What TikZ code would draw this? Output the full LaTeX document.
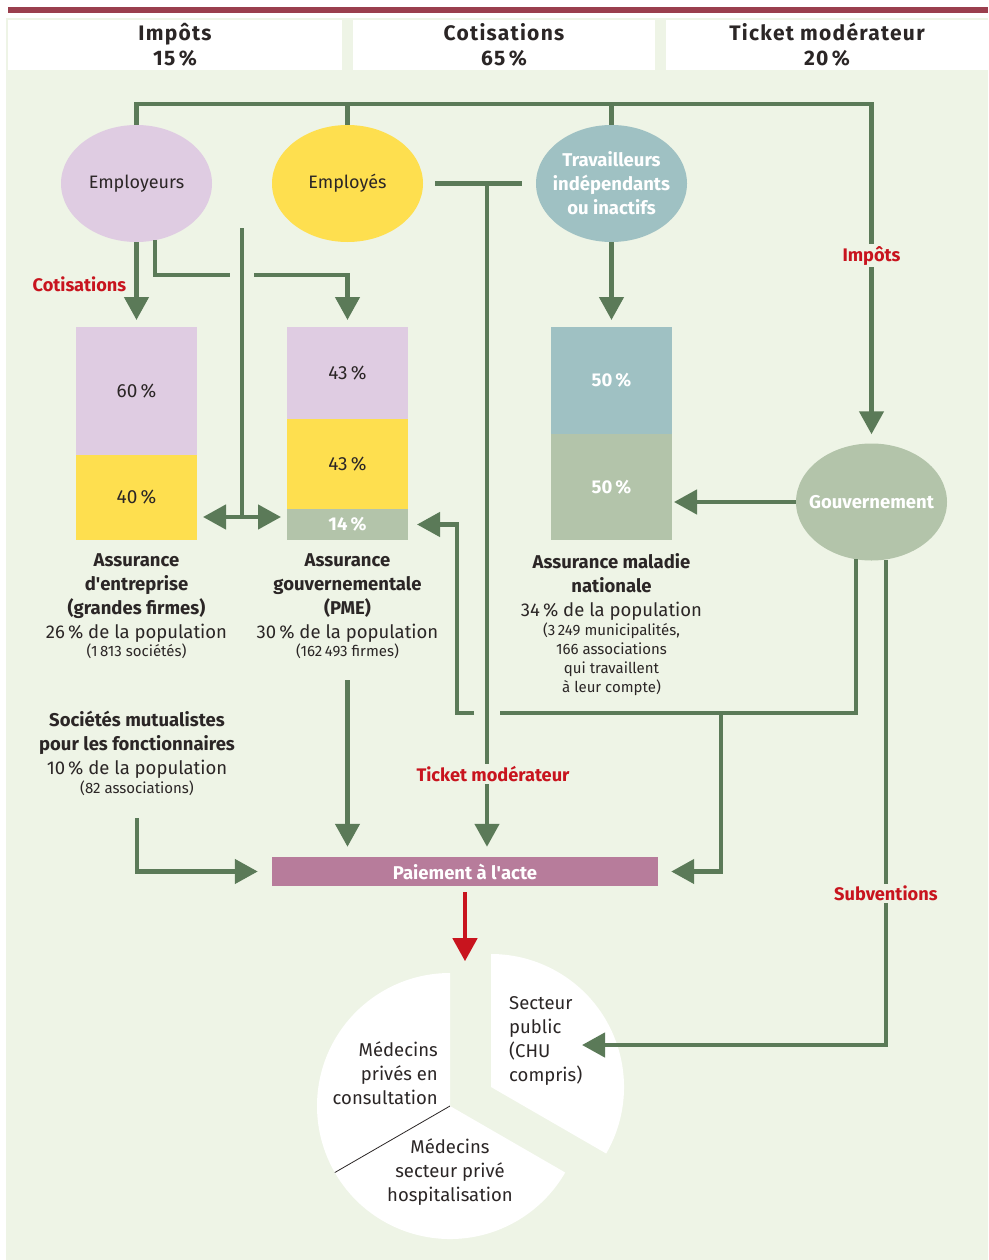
\documentclass[tikz,border=0pt]{standalone}
\usepackage{fontspec}
\setmainfont{Fira Sans}
\usetikzlibrary{arrows.meta,positioning,shapes.geometric}

\definecolor{fondvert}{HTML}{EEF4E6}
\definecolor{bordeaux}{HTML}{9A3F4E}
\definecolor{fleche}{HTML}{5B7A58}
\definecolor{rouge}{HTML}{C8141E}
\definecolor{lilas}{HTML}{DFCCE2}
\definecolor{jaune}{HTML}{FEDF4F}
\definecolor{bleugris}{HTML}{9FC1C3}
\definecolor{sauge}{HTML}{B3C4AA}
\definecolor{mauve}{HTML}{B77C9B}
\definecolor{encre}{HTML}{2B2626}

\begin{document}
\begin{tikzpicture}[x=1pt,y=-1pt,
		flux/.style={draw=fleche,line width=4.5pt},
		fl/.style={flux,-{Triangle[width=24pt,length=23pt]}},
		acteur/.style={ellipse,minimum width=151pt,minimum height=117pt,
			inner xsep=-16pt,inner ysep=0pt,align=center,text=encre,font=\fontsize{18}{24}\selectfont},
		blanc/.style={text=white,font=\bfseries\fontsize{18.5}{24}\selectfont},
		barre/.style={minimum width=121pt,inner sep=0pt,outer sep=0pt,
			text=encre,font=\fontsize{19}{22}\selectfont},
		legende/.style={align=center,inner sep=0pt,text=encre,font=\fontsize{18.5}{24}\selectfont},
		etiq/.style={fill=fondvert,text=rouge,inner sep=2pt,font=\bfseries\fontsize{18.2}{22}\selectfont},
		entete/.style={fill=white,minimum height=50pt,align=center,inner sep=0pt,
			text=encre,font=\bfseries\fontsize{21}{25}\selectfont\addfontfeatures{LetterSpace=6}}]

		\fill[white] (0,0) rectangle (988,1260);
		\fill[fondvert] (6,18) rectangle (988,1260);
		\fill[bordeaux] (8,7) rectangle (988,13);

		\node[entete,minimum width=334pt] (hImp) at (175,45) {Impôts\\15\,\%};
		\node[entete,minimum width=302pt] (hCot) at (504,45) {Cotisations\\65\,\%};
		\node[entete,minimum width=322pt] (hTic) at (827,45) {Ticket modérateur\\20\,\%};

		\node[acteur,fill=lilas] (emp) at (136.5,183.5) {Employeurs};
		\node[acteur,fill=jaune] (sal) at (347.5,183.5) {Employés};
		\node[acteur,fill=bleugris,blanc] (ind) at (611.5,183.5) {Travailleurs\\indépendants\\ou inactifs};
		\node[acteur,fill=sauge,blanc] (gov) at (871.5,502) {Gouvernement};

		\node[barre,fill=lilas,minimum height=128pt,anchor=north] (b1a) at (136.5,327) {60\,\%};
		\node[barre,fill=jaune,minimum height=85pt,below=0pt of b1a] (b1b) {40\,\%};
		\node[barre,fill=lilas,minimum height=92pt,anchor=north] (b2a) at (347.5,327) {43\,\%};
		\node[barre,fill=jaune,minimum height=90pt,below=0pt of b2a] (b2b) {43\,\%};
		\node[barre,fill=sauge,minimum height=31pt,below=0pt of b2b,blanc] (b2c) {14\,\%};
		\node[barre,fill=bleugris,minimum height=107pt,anchor=north,blanc] (b3a) at (611.5,327) {50\,\%};
		\node[barre,fill=sauge,minimum height=106pt,below=0pt of b3a,blanc] (b3b) {50\,\%};

		\node[legende,below=13pt of b1b] (cap1) {\textbf{Assurance}\\\textbf{d\textquotesingle entreprise}\\\textbf{(grandes firmes)}\\
			26\,\% de la population\\[-6pt]{\fontsize{15}{16}\selectfont(1\,813 sociétés)}};
		\node[legende,below=13pt of b2c] (cap2) {\textbf{Assurance}\\\textbf{gouvernementale}\\\textbf{(PME)}\\
			30\,\% de la population\\[-6pt]{\fontsize{15}{16}\selectfont(162\,493 firmes)}};
		\node[legende,below=13pt of b3b] (cap3) {\textbf{Assurance maladie}\\\textbf{nationale}\\
			34\,\% de la population\\[-5pt]{\fontsize{15}{16}\selectfont(3\,249 municipalités,}\\[-5pt]
			{\fontsize{15}{16}\selectfont166 associations}\\[-5pt]{\fontsize{15}{16}\selectfont qui travaillent}\\[-5pt]
			{\fontsize{15}{16}\selectfont à leur compte)}};
		\node[legende,anchor=north] (soc) at (137,711) {\textbf{Sociétés mutualistes}\\\textbf{pour les fonctionnaires}\\
			10\,\% de la population\\[-5pt]{\fontsize{15}{16}\selectfont(82 associations)}};

		\node[fill=mauve,minimum width=386pt,minimum height=29pt,inner sep=0pt,
			text=white,font=\bfseries\fontsize{18.5}{20}\selectfont] (pay) at (465,871.5) {Paiement à l\textquotesingle acte};

		\begin{scope}[shift={(450,1106)},yscale=-1]
			\fill[white] (0,0) -- (90:133) arc[start angle=90,end angle=210,radius=133] -- cycle;
			\fill[white] (0,0) -- (210:133) arc[start angle=210,end angle=330,radius=133] -- cycle;
			\fill[white] (41,19) -- ++(-30:133) arc[start angle=-30,end angle=90,radius=133] -- cycle;
			\draw[encre,line width=0.8pt] (0,0) -- (210:133);
		\end{scope}

		\node[legende,anchor=east,align=right] (pcons) at (438,1073) {Médecins\\privés en\\consultation};
		\node[legende,anchor=west,align=left] (ppub) at (509,1041) {Secteur\\public\\(CHU\\compris)};
		\node[legende] (phos) at (450,1172) {Médecins\\secteur privé\\hospitalisation};

		\coordinate (bus) at (0,104);
		\coordinate (x1) at (242,275);
		\coordinate (x2) at (242,228);
		\coordinate (x3) at (242,517);
		\coordinate (tm) at (487,183.5);
		\coordinate (x4) at (487,713);
		\coordinate (x5) at (721,713);
		\coordinate (sub) at (582,1045);

		\draw[fl] (emp.north) -- (emp.north |- bus) -| node[etiq,pos=0.73] {Impôts} ([yshift=9pt]gov.north);
		\draw[flux] (sal.north) -- (sal.north |- bus);
		\draw[flux] (ind.north) -- (ind.north |- bus);

		\draw[fl] (emp.south) -- node[etiq,fill=none,left=6pt,pos=0.54] {Cotisations} ([yshift=7pt]b1a.north);
		\draw[flux] (emp.-72) |- ([xshift=-12pt]x1);
		\draw[fl] ([xshift=12pt]x1) -| ([yshift=7pt]b2a.north);
		\draw[flux] (x2) -- (x3);
		\draw[flux,{Triangle[width=24pt,length=23pt]}-{Triangle[width=24pt,length=23pt]}]
			([xshift=6pt]b1b.east |- x3) -- ([xshift=-6pt]b2c.west |- x3);

		\draw[flux] ([xshift=12pt]sal.east) -- ([xshift=-14pt]ind.west);
		\draw[fl] (ind.south) -- ([yshift=7pt]b3a.north);
		\draw[fl] (gov.west) -- ([xshift=2pt]b3b.east |- gov.west);

		\draw[flux] (gov.-105) |- ([xshift=13pt]x4);
		\draw[fl] ([xshift=-13pt]x4) -| ([xshift=49pt]b2c.east) -- ([xshift=9pt]b2c.east);
		\draw[fl] (x5) |- ([xshift=13pt]pay.east);
		\draw[fl] (tm) -- node[etiq,pos=0.89,xshift=6pt] {Ticket modérateur} ([yshift=10pt]pay.north -| tm);

		\draw[fl] ([yshift=-22pt]cap2.south) -- ([yshift=10pt]pay.north -| cap2.south);
		\draw[fl] ([yshift=-22pt]soc.south) |- ([xshift=-14pt]pay.west);
		\draw[fl] (gov.-76) -- node[etiq,pos=0.687] {Subventions} (gov.-76 |- sub) -- (sub);

		\draw[line width=4.5pt,draw=rouge,-{Triangle[width=24pt,length=23pt]}] ([yshift=-6pt]pay.south) -- ++(0,69);

	\end{tikzpicture}
\end{document}
